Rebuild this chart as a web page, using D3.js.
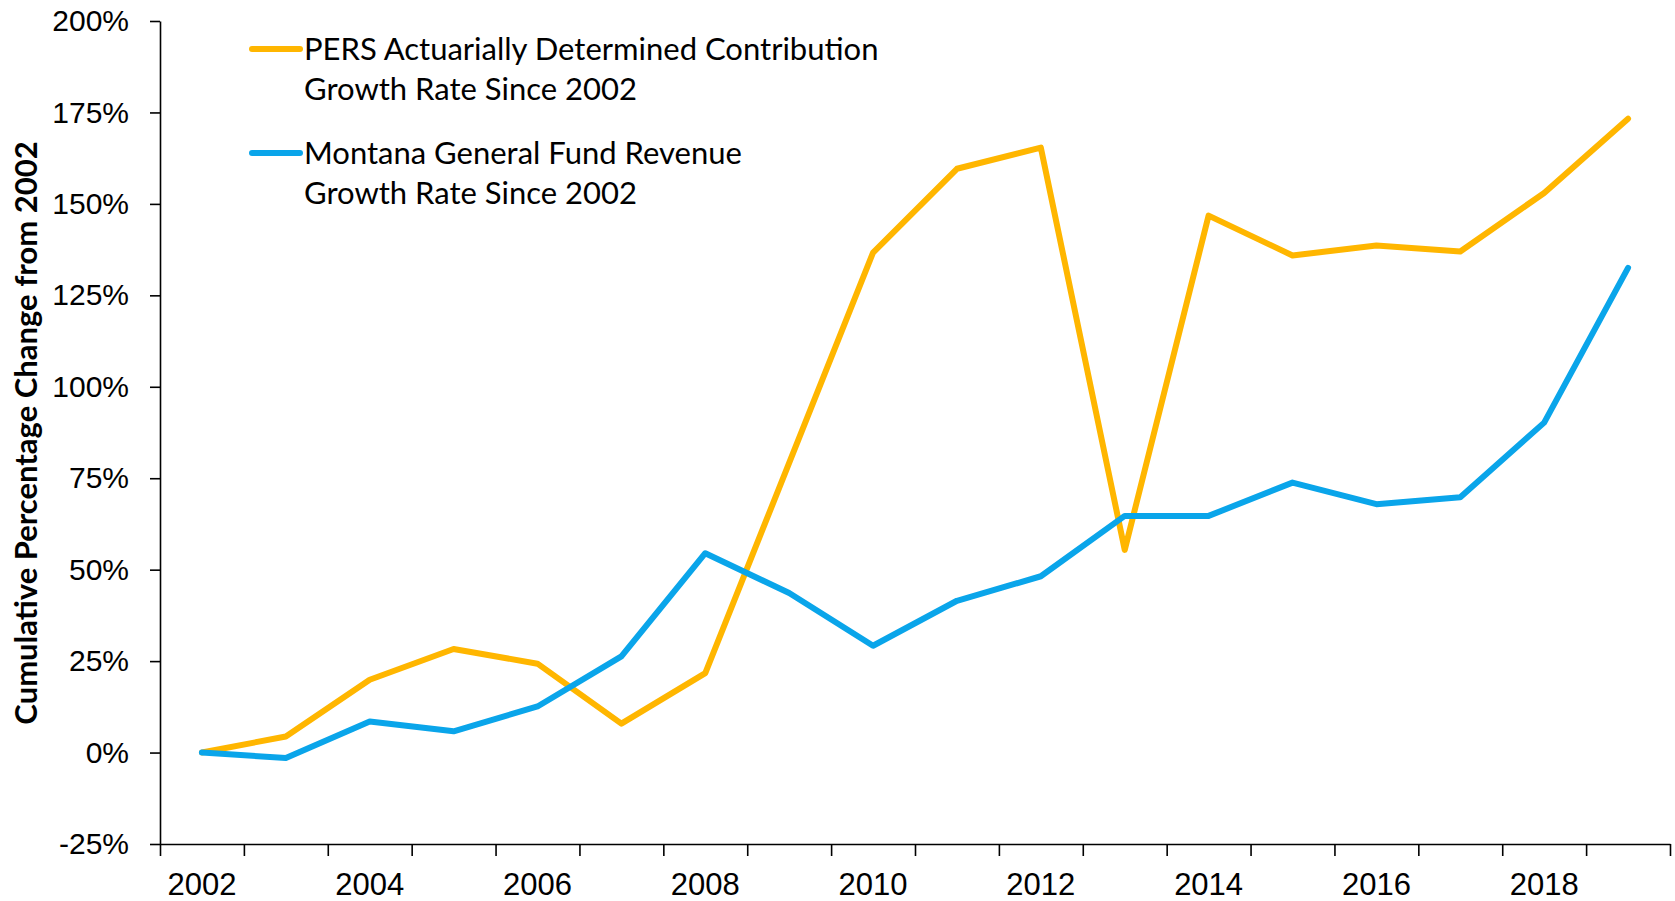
<!DOCTYPE html>
<html>
<head>
<meta charset="utf-8">
<script src="https://cdn.jsdelivr.net/npm/d3@7"></script>
<style>
  body { margin: 0; background: #fff; }
  svg { display: block; font-family: Lato, "Open Sans", sans-serif; }
</style>
</head>
<body>
<svg id="drawing_region"></svg>
<script>
// years on the category axis
const years = d3.range(2002, 2020);
// cumulative % change from 2002
const pers = [0, 4.4, 19.9, 28.3, 24.3, 7.9, 21.7, 79.2, 136.7, 159.6, 165.4, 55.4, 146.8, 135.9, 138.6, 137.0, 153.0, 173.3];
const montana = [0, -1.5, 8.5, 5.8, 12.6, 26.3, 54.5, 43.6, 29.2, 41.5, 48.2, 64.7, 64.7, 73.8, 67.9, 69.8, 90.2, 132.5];
const yTicks = [-25, 0, 25, 50, 75, 100, 125, 150, 175, 200];
const xLabels = [2002, 2004, 2006, 2008, 2010, 2012, 2014, 2016, 2018];
const seriesNames = [
    ["PERS Actuarially Determined Contribution", "Growth Rate Since 2002"],
    ["Montana General Fund Revenue", "Growth Rate Since 2002"]
];
const colors = ["#FFB600", "#0AA5EA"];

const config = {
    width: 1675,
    height: 901,
    margin: {top: 21, right: 5, bottom: 57, left: 160}
};

const svg = d3.select('#drawing_region')
    .attr('width', config.width)
    .attr('height', config.height);

const inner_width = config.width - config.margin.left - config.margin.right;
const inner_height = config.height - config.margin.top - config.margin.bottom;

const chart = svg.append('g')
    .attr('transform', `translate(${config.margin.left}, ${config.margin.top})`);

const xscale = d3.scaleBand()
    .domain(years)
    .range([0, inner_width])
    .padding(0);

// boundary ticks between categories, like the spreadsheet axis
const xedge = d3.scaleLinear()
    .domain([years[0] - 0.5, years[years.length - 1] + 0.5])
    .range([0, inner_width]);

const yscale = d3.scaleLinear()
    .domain([-25, 200])
    .range([inner_height, 0]);

// y axis
const yaxis = d3.axisLeft(yscale)
    .tickValues(yTicks)
    .tickSize(10)
    .tickSizeOuter(0)
    .tickPadding(21)
    .tickFormat(d => d + "%");

const yaxis_group = chart.append('g').call(yaxis);
yaxis_group.selectAll('text')
    .attr('font-size', '30px')
    .attr('fill', '#000');

// x axis: ticks at the edges
const xaxis_ticks = d3.axisBottom(xedge)
    .tickValues(d3.range(years[0] - 0.5, years[years.length - 1] + 1, 1))
    .tickSize(12)
    .tickSizeOuter(0)
    .tickFormat("");

chart.append('g')
    .attr('transform', `translate(0, ${inner_height})`)
    .call(xaxis_ticks);

// x axis: labels at band centres
const xaxis_labels = d3.axisBottom(xscale)
    .tickValues(xLabels)
    .tickSize(0)
    .tickPadding(29);

const xlab_group = chart.append('g')
    .attr('transform', `translate(0, ${inner_height})`)
    .call(xaxis_labels);
xlab_group.select('.domain').remove();
xlab_group.selectAll('text')
    .attr('font-size', '31px')
    .attr('fill', '#000');

chart.selectAll('.domain, .tick line')
    .attr('stroke', '#000')
    .attr('stroke-width', 1.6);

// lines
const line = d3.line()
    .x((d, i) => xscale(years[i]) + xscale.bandwidth() / 2)
    .y(d => yscale(d));

[pers, montana].forEach((s, k) => {
    chart.append('path')
        .datum(s)
        .attr('fill', 'none')
        .attr('stroke', colors[k])
        .attr('stroke-width', 6)
        .attr('stroke-linejoin', 'round')
        .attr('stroke-linecap', 'round')
        .attr('d', line);
});

// y label
svg.append('text')
    .attr('transform', `translate(37, 433) rotate(-90)`)
    .attr('text-anchor', 'middle')
    .attr('font-size', '31px')
    .attr('font-weight', 'bold')
    .text("Cumulative Percentage Change from 2002");

// legend
const legend = svg.append('g');
const legendY = [49, 153];
seriesNames.forEach((lines, k) => {
    legend.append('line')
        .attr('x1', 252).attr('x2', 300)
        .attr('y1', legendY[k]).attr('y2', legendY[k])
        .attr('stroke', colors[k])
        .attr('stroke-width', 6)
        .attr('stroke-linecap', 'round');
    lines.forEach((t, j) => {
        legend.append('text')
            .attr('x', 304)
            .attr('y', legendY[k] + j * 40)
            .attr('dy', '0.35em')
            .attr('font-size', '31px')
            .text(t);
    });
});
</script>
</body>
</html>
